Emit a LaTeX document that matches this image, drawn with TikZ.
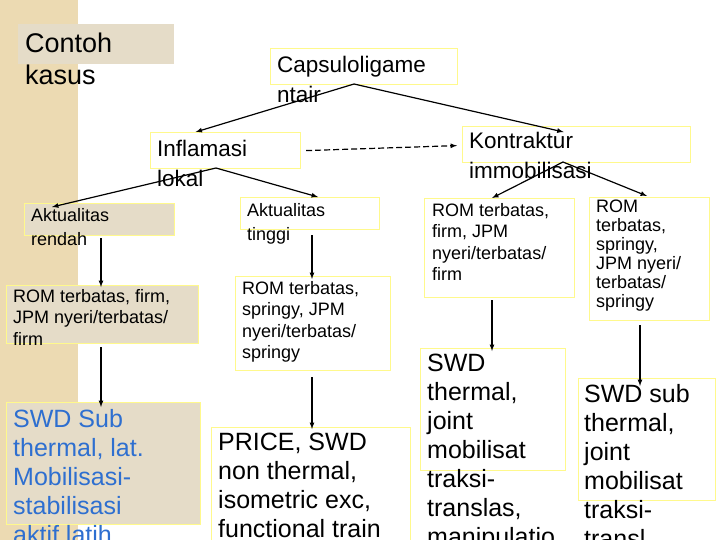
\documentclass[tikz,border=0pt]{standalone}
\usepackage{fontspec}
\setmainfont{Liberation Sans}
\begin{document}
\begin{tikzpicture}[x=1pt,y=-1pt,
  ybox/.style={draw=yellow!45!white,line width=1.2pt,inner sep=0pt},
  bbox/.style={ybox,fill=beige},
  txt/.style={anchor=north west,inner sep=0pt,align=left},
  arr/.style={-latex,line width=1.2pt},
]
\definecolor{beige}{HTML}{E5DCC8}
\definecolor{strip}{HTML}{ECDAB2}
\definecolor{blu}{HTML}{2E6FD0}
\useasboundingbox (0,0) rectangle (720,540);
\fill[white] (0,0) rectangle (720,540);
\fill[strip] (0,0) rectangle (78,540);
% boxes
\fill[beige] (18,24) rectangle (174,64); \coordinate (ck) at (18,24);
\node[ybox,minimum width=187,minimum height=36,anchor=north west] (cap) at (270,48) {};
\node[ybox,minimum width=150,minimum height=36,anchor=north west] (inf) at (150,132) {};
\node[ybox,minimum width=228,minimum height=36,anchor=north west] (kon) at (462,126) {};
\node[bbox,minimum width=150,minimum height=32,anchor=north west] (ar) at (24,203) {};
\node[ybox,minimum width=139,minimum height=32,anchor=north west] (at) at (240,197) {};
\node[ybox,minimum width=150,minimum height=99,anchor=north west] (r3) at (424,198) {};
\node[ybox,minimum width=120,minimum height=123,anchor=north west] (r4) at (589,197) {};
\node[bbox,minimum width=192,minimum height=58,anchor=north west] (r1) at (6,285) {};
\node[ybox,minimum width=155,minimum height=94,anchor=north west] (r2) at (235,276) {};
\node[bbox,minimum width=194,minimum height=122,anchor=north west] (s1) at (6,402) {};
\node[ybox,minimum width=199,minimum height=130,anchor=north west] (s2) at (211,427) {};
\node[ybox,minimum width=145,minimum height=122,anchor=north west] (s3) at (420,348) {};
\node[ybox,minimum width=137,minimum height=122,anchor=north west] (s4) at (578,378) {};
% texts
\node[txt,font=\fontsize{27}{32}\selectfont] (t0) at (25,33) {Contoh\\kasus};
\node[txt,font=\fontsize{22.5}{30}\selectfont] (t1) at (277,56) {Capsuloligame\\ntair};
\node[txt,font=\fontsize{22.5}{30}\selectfont] (t2) at (157,140) {Inflamasi\\lokal};
\node[txt,font=\fontsize{22.5}{30}\selectfont] (t3) at (469,132) {Kontraktur\\immobilisasi};
\node[txt,font=\fontsize{18}{24}\selectfont] (t4) at (31,208) {Aktualitas\\rendah};
\node[txt,font=\fontsize{18}{24}\selectfont] (t5) at (247,203) {Aktualitas\\tinggi};
\node[txt,font=\fontsize{18}{21.5}\selectfont] (t6) at (432,203) {ROM terbatas,\\firm, JPM\\nyeri/terbatas/\\firm};
\node[txt,font=\fontsize{18}{19}\selectfont] (t7) at (596,200) {ROM\\terbatas,\\springy,\\JPM nyeri/\\terbatas/\\springy};
\node[txt,font=\fontsize{18}{21.5}\selectfont] (t8) at (13,289) {ROM terbatas, firm,\\JPM nyeri/terbatas/\\firm};
\node[txt,font=\fontsize{18}{21.5}\selectfont] (t9) at (242,281) {ROM terbatas,\\springy, JPM\\nyeri/terbatas/\\springy};
\node[txt,font=\fontsize{25}{29}\selectfont,text=blu] (t10) at (13,409) {SWD Sub\\thermal, lat.\\Mobilisasi-\\stabilisasi\\aktif latih};
\node[txt,font=\fontsize{25}{29}\selectfont] (t11) at (218,433) {PRICE, SWD\\non thermal,\\isometric exc,\\functional train};
\node[txt,font=\fontsize{25}{29}\selectfont] (t12) at (427,354) {SWD\\thermal,\\joint\\mobilisat\\traksi-\\translas,\\manipulatio};
\node[txt,font=\fontsize{25}{29}\selectfont] (t13) at (584,384) {SWD sub\\thermal,\\joint\\mobilisat\\traksi-\\transl};
% connectors
\coordinate (capb) at (354,84);
\draw[arr] (capb) -- ([xshift=-30]inf.north);
\draw[arr] (capb) -- ([xshift=-13,yshift=-6]kon.north);
\draw[arr,dash pattern=on 6pt off 3pt] ([xshift=5]inf.east) -- ([xshift=-5,yshift=-1]kon.west);
\coordinate (infb) at (216,168);
\draw[arr] (infb) -- ([xshift=28,yshift=-4]ar.north west);
\draw[arr] (infb) -- ([xshift=78]at.north west);
\coordinate (konb) at (563,162);
\draw[arr] (konb) -- ([xshift=68]r3.north west);
\draw[arr] (konb) -- ([xshift=58,yshift=1]r4.north west);
\draw[arr] (101,238) -- ([xshift=95,yshift=-2]r1.north west);
\draw[arr] (101,347) -- ([xshift=95,yshift=-5]s1.north west);
\draw[arr] (312,235) -- ([xshift=77,yshift=-3]r2.north west);
\draw[arr] (312,377) -- ([xshift=101,yshift=-2]s2.north west);
\draw[arr] (492,300) -- ([xshift=72,yshift=-3]s3.north west);
\draw[arr] (640,325) -- ([xshift=62,yshift=-8]s4.north west);
\end{tikzpicture}
\end{document}
